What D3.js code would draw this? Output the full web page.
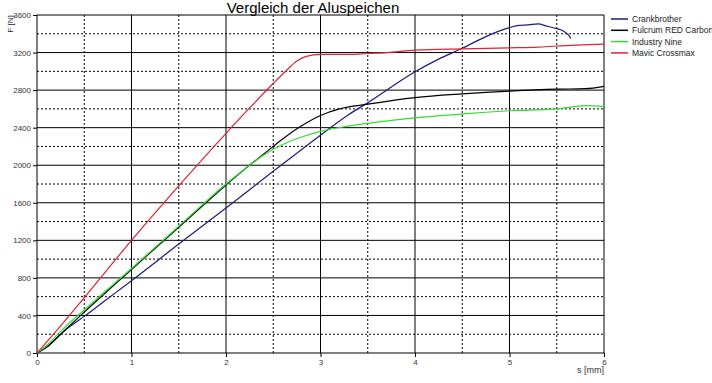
<!DOCTYPE html>
<html>
<head>
<meta charset="utf-8">
<script src="https://cdn.jsdelivr.net/npm/d3@7"></script>
<style>
  body { margin: 0; background: #fff; }
  text { font-family: Arial, "Liberation Sans", sans-serif; }
</style>
</head>
<body>
<div id="chart"></div>
<script>
// series: [s in mm, F in N]
const crankbrother = [[0,0],[0.1,60],[0.2,150],[0.3,245],[0.4,320],[0.5,390],[0.75,580],[1,770],[1.5,1160],[2,1545],[2.5,1935],[3,2320],[3.3,2540],[3.5,2665],[4,2995],[4.25,3130],[4.5,3245],[4.75,3370],[5,3465],[5.1,3490],[5.2,3495],[5.3,3505],[5.4,3480],[5.5,3455],[5.57,3430],[5.62,3390],[5.65,3350]];
const fulcrum = [[0,0],[0.1,60],[0.25,200],[0.5,435],[1,890],[1.5,1340],[2,1790],[2.2,1960],[2.4,2120],[2.6,2280],[2.8,2420],[3,2530],[3.2,2600],[3.5,2650],[4,2720],[4.5,2760],[5,2790],[5.5,2810],[5.8,2815],[6,2840]];
const industryNine = [[0,0],[0.1,80],[0.25,230],[0.5,460],[1,900],[1.5,1350],[2,1800],[2.25,2000],[2.4,2110],[2.6,2220],[2.8,2300],[3,2360],[3.25,2410],[3.5,2445],[4,2505],[4.5,2545],[5,2580],[5.5,2600],[5.8,2635],[6,2625]];
const mavic = [[0,0],[0.25,290],[0.5,590],[1,1200],[1.5,1780],[2,2340],[2.25,2610],[2.5,2870],[2.65,3020],[2.75,3110],[2.85,3160],[3,3180],[3.3,3180],[3.5,3190],[3.7,3200],[4,3225],[4.5,3240],[5,3250],[5.3,3258],[5.5,3270],[6,3290]];

const seriesNames = ["Crankbrother", "Fulcrum RED Carbon", "Industry Nine", "Mavic Crossmax"];
const seriesData = [crankbrother, fulcrum, industryNine, mavic];
const seriesColors = ["#1c1c78", "#000000", "#33dd33", "#dd2233"];

const xTicks = [0, 1, 2, 3, 4, 5, 6];
const yTicks = [0, 400, 800, 1200, 1600, 2000, 2400, 2800, 3200, 3600];

const W = 712, H = 383;
const margin = {top: 15, right: 108, bottom: 30, left: 37};
const width = W - margin.left - margin.right;
const height = H - margin.top - margin.bottom;

const svg = d3.select("#chart").append("svg")
  .attr("width", W).attr("height", H);

svg.append("text")
  .attr("x", 313).attr("y", 13)
  .attr("text-anchor", "middle")
  .attr("font-size", 15)
  .attr("fill", "#000")
  .text("Vergleich der Aluspeichen");

const g = svg.append("g")
  .attr("transform", "translate(" + margin.left + "," + margin.top + ")");

const x = d3.scaleLinear().domain([0, 6]).range([0, width]);
const y = d3.scaleLinear().domain([0, 3600]).range([height, 0]);

// dashed minor grid
const minorX = d3.range(0.5, 6, 1);
const minorY = d3.range(200, 3600, 400);
g.selectAll(".mx").data(minorX).enter().append("line")
  .attr("x1", d => x(d)).attr("x2", d => x(d))
  .attr("y1", 0).attr("y2", height)
  .attr("stroke", "#000").attr("stroke-dasharray", "2,2");
g.selectAll(".my").data(minorY).enter().append("line")
  .attr("x1", 0).attr("x2", width)
  .attr("y1", d => y(d)).attr("y2", d => y(d))
  .attr("stroke", "#000").attr("stroke-dasharray", "2,2");

// solid major grid
g.selectAll(".gx").data(xTicks).enter().append("line")
  .attr("x1", d => x(d)).attr("x2", d => x(d))
  .attr("y1", 0).attr("y2", height)
  .attr("stroke", "#000");
g.selectAll(".gy").data(yTicks).enter().append("line")
  .attr("x1", 0).attr("x2", width)
  .attr("y1", d => y(d)).attr("y2", d => y(d))
  .attr("stroke", "#000");

// axes
const xAxis = d3.axisBottom(x).tickValues(xTicks).tickFormat(d3.format("d")).tickSize(4).tickPadding(2);
const yAxis = d3.axisLeft(y).tickValues(yTicks).tickFormat(d3.format("d")).tickSize(4).tickPadding(2);

const gx = g.append("g").attr("transform", "translate(0," + height + ")").call(xAxis);
const gy = g.append("g").call(yAxis);
[gx, gy].forEach(a => {
  a.select(".domain").remove();
  a.selectAll("line").attr("stroke", "#000");
  a.selectAll("text").attr("font-size", 8).attr("fill", "#333")
    .attr("font-family", "Arial, 'Liberation Sans', sans-serif");
});

// lines
const line = d3.line()
  .x(d => x(d[0]))
  .y(d => y(d[1]))
  .curve(d3.curveMonotoneX);

seriesData.forEach((data, i) => {
  g.append("path")
    .datum(data)
    .attr("fill", "none")
    .attr("stroke", seriesColors[i])
    .attr("stroke-width", 1.2)
    .attr("d", line);
});

// axis titles
svg.append("text")
  .attr("transform", "translate(13,24) rotate(-90)")
  .attr("text-anchor", "middle")
  .attr("font-size", 8)
  .attr("fill", "#223")
  .text("F [N]");
svg.append("text")
  .attr("x", 604).attr("y", 373)
  .attr("text-anchor", "end")
  .attr("font-size", 9)
  .attr("fill", "#333")
  .text("s [mm]");

// legend
const legend = svg.append("g").attr("transform", "translate(611,19)");
seriesNames.forEach((name, i) => {
  const row = legend.append("g").attr("transform", "translate(0," + (i * 11.3) + ")");
  row.append("line")
    .attr("x1", 0).attr("x2", 17).attr("y1", 0).attr("y2", 0)
    .attr("stroke", seriesColors[i]).attr("stroke-width", 1.5);
  row.append("text")
    .attr("x", 21).attr("y", 3)
    .attr("font-size", 8.5)
    .attr("fill", "#222")
    .text(name);
});
</script>
</body>
</html>
